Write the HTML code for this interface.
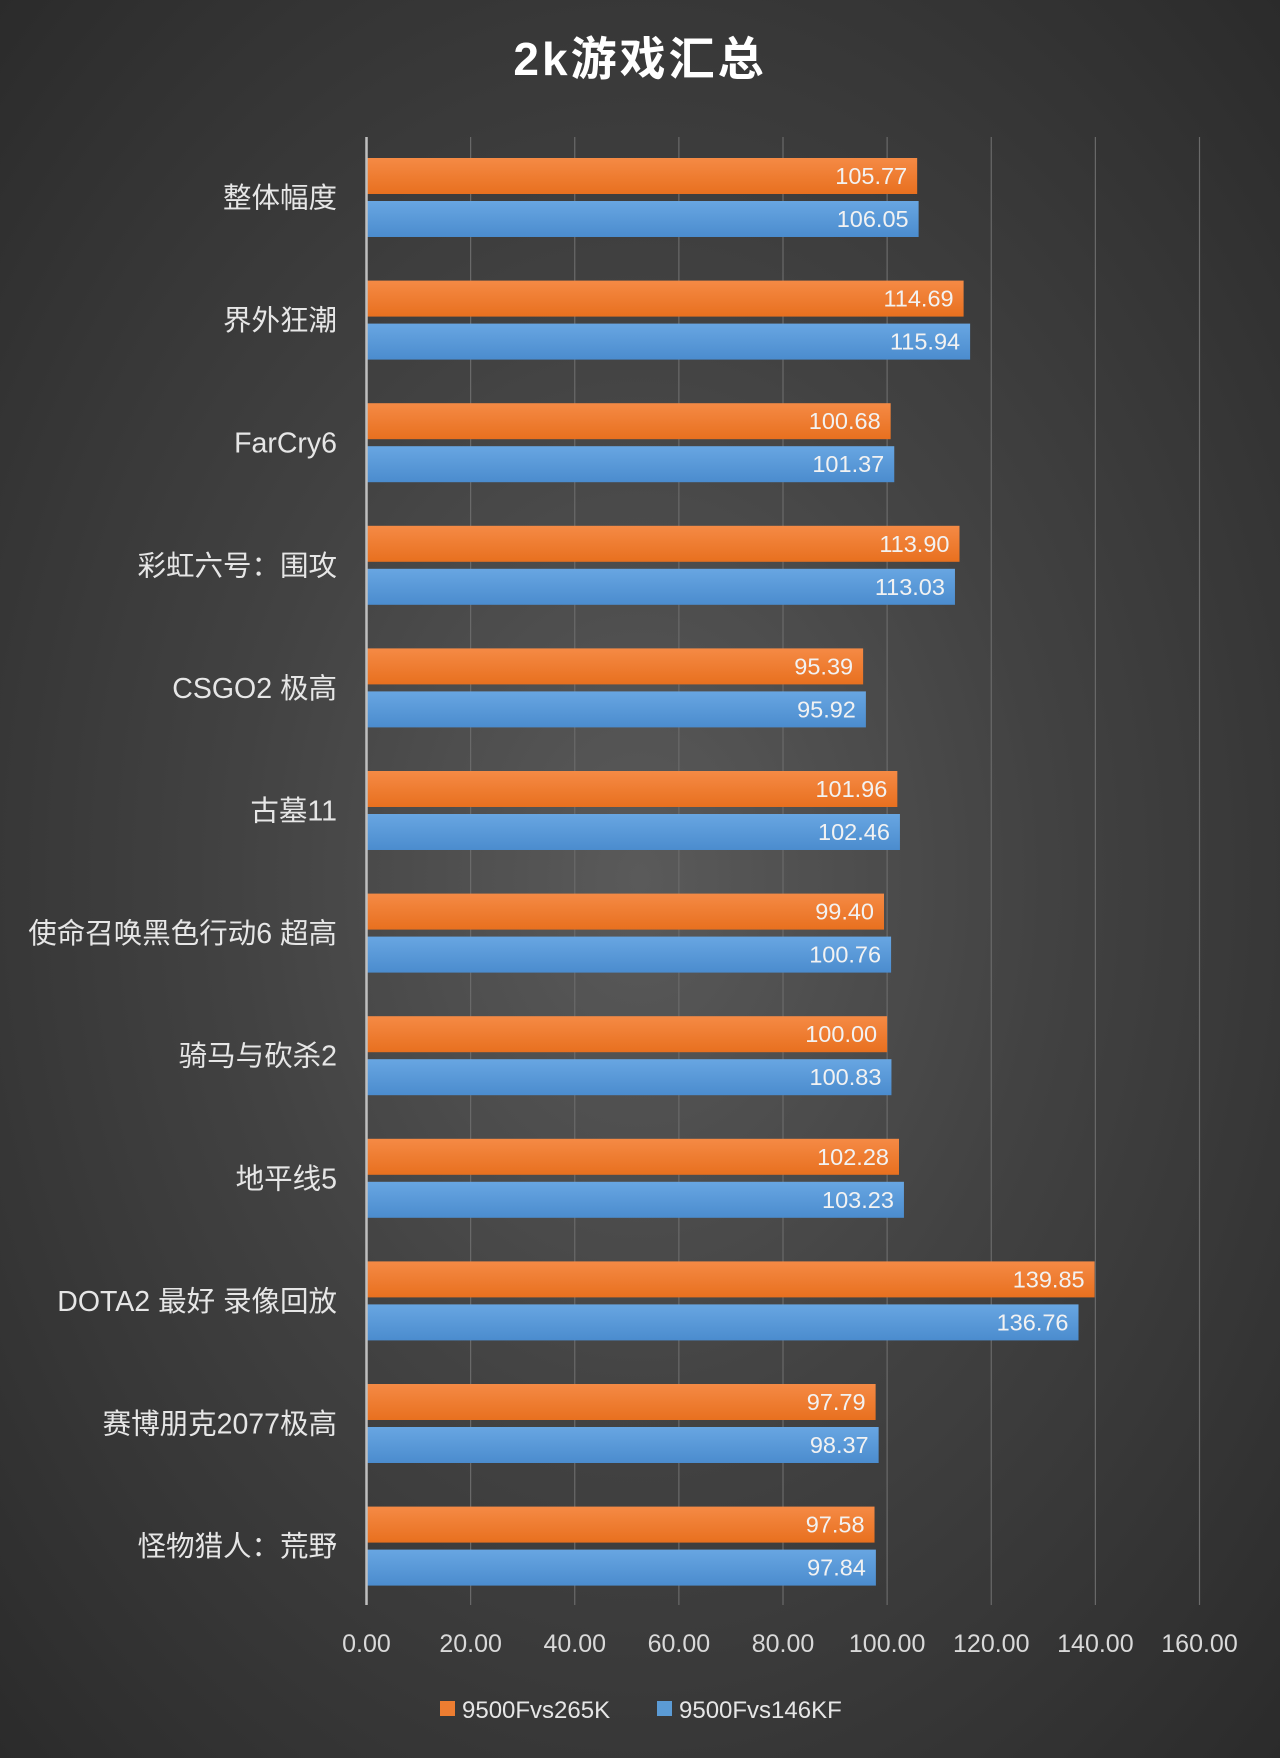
<!DOCTYPE html>
<html><head><meta charset="utf-8">
<style>
html,body{margin:0;padding:0;}
body{width:1280px;height:1758px;overflow:hidden;background:radial-gradient(ellipse at 50% 50%,#5a5a5a 0%,#424242 45%,#2b2b2b 100%);font-family:"Liberation Sans","Noto Sans CJK SC",sans-serif;}
svg{position:absolute;left:0;top:0;}
</style></head><body>
<svg id="chart" width="1280" height="1758">
<defs>
<linearGradient id="og" x1="0" y1="0" x2="0" y2="1"><stop offset="0" stop-color="#f58a45"/><stop offset="1" stop-color="#e8701f"/></linearGradient>
<linearGradient id="bg" x1="0" y1="0" x2="0" y2="1"><stop offset="0" stop-color="#68a6e2"/><stop offset="1" stop-color="#4b8cce"/></linearGradient>
</defs>
<text x="640" y="75" text-anchor="middle" fill="#ffffff" font-size="46" font-weight="bold" letter-spacing="3" font-family="'Liberation Sans','Noto Sans CJK SC',sans-serif">2k游戏汇总</text>
</svg>
<script>
const categories=["整体幅度","界外狂潮","FarCry6","彩虹六号：围攻","CSGO2 极高","古墓11","使命召唤黑色行动6 超高","骑马与砍杀2","地平线5","DOTA2 最好 录像回放","赛博朋克2077极高","怪物猎人：荒野"];
const series1=[105.77,114.69,100.68,113.90,95.39,101.96,99.40,100.00,102.28,139.85,97.79,97.58];
const series2=[106.05,115.94,101.37,113.03,95.92,102.46,100.76,100.83,103.23,136.76,98.37,97.84];
const ticks=[0,20,40,60,80,100,120,140,160];
const seriesNames=["9500Fvs265K","9500Fvs146KF"];

const svg=document.getElementById('chart');
const NS='http://www.w3.org/2000/svg';
const x0=366.5, x1=1199.5, vmax=160;
const xs=v=>x0+(x1-x0)*v/vmax;
const plotTop=137, plotBot=1605;
const groupTop=158, groupStep=122.6, barH=36, gap=7;
function mk(tag,attrs){const e=document.createElementNS(NS,tag);for(const k in attrs)e.setAttribute(k,attrs[k]);svg.appendChild(e);return e;}
ticks.forEach((t,i)=>{
  if(t>0){const g=mk('line',{x1:xs(t),x2:xs(t),y1:plotTop,y2:plotBot,stroke:'#6a6a6a','stroke-width':1.2});
  
  }
  const l=mk('text',{x:xs(t),y:1652,'text-anchor':'middle',fill:'#d9d9d9','font-size':25});
  l.textContent=t.toFixed(2);
  
  
});
categories.forEach((c,i)=>{
  const top=groupTop+i*groupStep;
  const vals=[series1[i],series2[i]];
  vals.forEach((v,j)=>{
    const y=top+j*(barH+gap);
    const r=mk('rect',{x:x0,y:y,width:xs(v)-x0,height:barH,fill:j?'url(#bg)':'url(#og)'});
    
    
    const t=mk('text',{x:xs(v)-10,y:y+barH/2+8,'text-anchor':'end',fill:'#f2f2f2','font-size':23.5});
    t.textContent=v.toFixed(2);
    
    
  });
  const lb=mk('text',{x:337,y:top+barH+gap/2+10,'text-anchor':'end',fill:'#e6e6e6','font-size':28.5});
  lb.textContent=c;
  
  
});
const ax=mk('line',{x1:x0,x2:x0,y1:plotTop,y2:plotBot,stroke:'#bfbfbf','stroke-width':2.5});


const lx=[440,657];
seriesNames.forEach((n,j)=>{
  const s=mk('rect',{x:lx[j],y:1701,width:15,height:15,fill:j?'#5b9bd5':'#ed7d31'});
  
  
  const t=mk('text',{x:lx[j]+22,y:1718,fill:'#e6e6e6','font-size':24});
  t.textContent=n;
  
  
});
</script>
</body></html>
